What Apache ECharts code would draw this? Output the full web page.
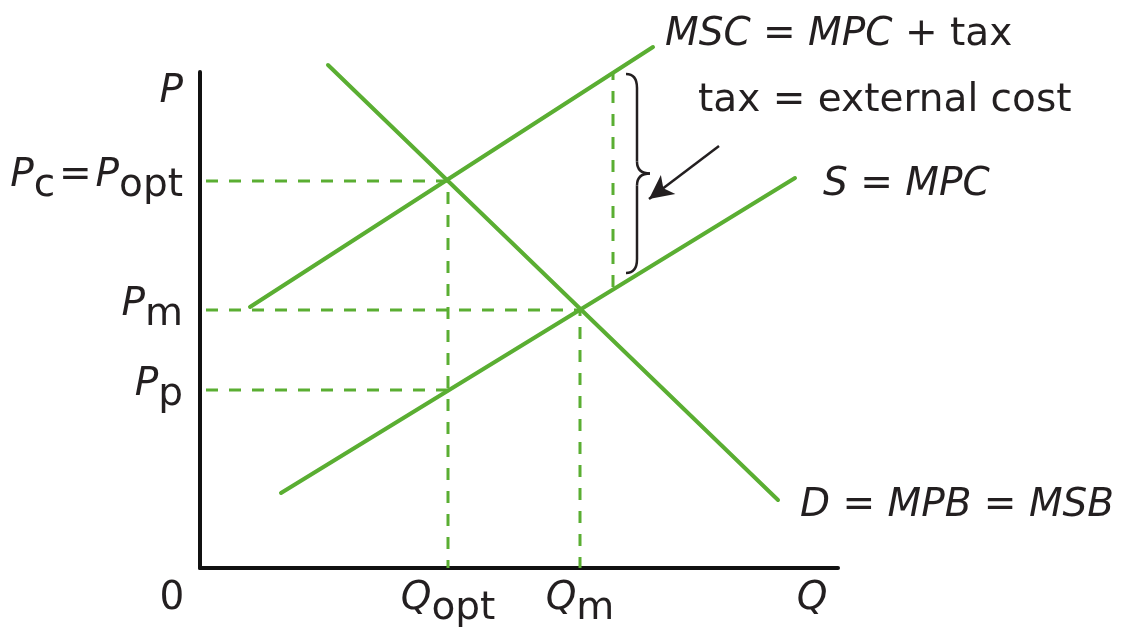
<!DOCTYPE html>
<html>
<head>
<meta charset="utf-8">
<script src="https://cdn.jsdelivr.net/npm/echarts@6/dist/echarts.min.js"></script>
<style>
  html, body { margin: 0; padding: 0; background: #fff; }
  #main { width: 1122px; height: 635px; }
</style>
</head>
<body>
<div id="main"></div>
<script>
// curves, in chart units (x = quantity, y = price)
const mscLine = [[50, 261], [453, 521]];
const supplyLine = [[81, 75], [595, 390]];
const demandLine = [[128, 503], [578, 68]];

// equilibrium points
const qOpt = 248, qM = 380;
const pOpt = 387, pM = 258, pP = 178;

// tax gap at one quantity
const taxX = 413, taxTop = 495, taxBottom = 281;
const arrowFrom = [519, 422], arrowTo = [449, 369];

// tick labels
const priceTicks = [pP, pM, pOpt, 476];
const priceTickLabels = ['{i|P}{s|p}', '{i|P}{s|m}', '{i|P}{s|c}{n|\u200a=\u200a}{i|P}{s|opt}', '{a|P}'];
const qtyTicks = [0, qOpt, qM, 612];
const qtyTickLabels = ['{z|0}', '{i|Q}{s|opt}', '{i|Q}{s|m}', '{a|Q}'];

const green = '#5aae32';
const ink = '#231f20';
const FONT = 'DejaVu Sans';
const FS = 39;

const rich = {
  i: { fontFamily: FONT, fontSize: FS, fontStyle: 'italic', color: ink, lineHeight: FS, verticalAlign: 'top' },
  n: { fontFamily: FONT, fontSize: FS, color: ink, lineHeight: FS, verticalAlign: 'top' },
  s: { fontFamily: FONT, fontSize: FS, color: ink, lineHeight: FS + 10, padding: [10, 0, 0, 0] },
  a: { fontFamily: FONT, fontSize: FS, fontStyle: 'italic', color: ink, lineHeight: FS },
  z: { fontFamily: FONT, fontSize: FS, color: ink, lineHeight: FS, padding: [0, 56, 0, 0] }
};

function curve(data, text, dist, off) {
  return {
    type: 'line', data: data, symbol: 'none', clip: false, silent: true,
    lineStyle: { color: green, width: 4, cap: 'round' },
    endLabel: {
      show: true, distance: dist, offset: off,
      formatter: function () { return text; },
      rich: rich
    }
  };
}

function dashed(data) {
  return {
    type: 'line', data: data, symbol: 'none', clip: false, silent: true,
    lineStyle: { color: green, width: 3, type: [12, 11] }
  };
}

const chart = echarts.init(document.getElementById('main'), null, { renderer: 'canvas' });

const taxSeries = dashed([[taxX, taxBottom], [taxX, taxTop]]);
taxSeries.markLine = {
  silent: true,
  symbol: ['none', 'arrow'],
  symbolSize: [18, 24],
  label: { show: false },
  lineStyle: { color: ink, width: 2.5, type: 'solid' },
  data: [[{ coord: arrowFrom }, { coord: arrowTo }]]
};

chart.setOption({
  animation: false,
  grid: { left: 200, right: 284, top: 72, bottom: 67 },
  xAxis: {
    type: 'value', min: 0, max: 638,
    axisLine: { show: true, lineStyle: { color: '#111', width: 4 } },
    axisTick: { show: false },
    splitLine: { show: false },
    axisLabel: {
      customValues: qtyTicks,
      margin: 11,
      formatter: function (v) { return qtyTickLabels[qtyTicks.indexOf(v)]; },
      rich: rich
    }
  },
  yAxis: {
    type: 'value', min: 0, max: 496,
    axisLine: { show: true, lineStyle: { color: '#111', width: 4 } },
    axisTick: { show: false },
    splitLine: { show: false },
    axisLabel: {
      customValues: priceTicks,
      margin: 17,
      formatter: function (v) { return priceTickLabels[priceTicks.indexOf(v)]; },
      rich: rich
    }
  },
  series: [
    dashed([[6, pOpt], [qOpt, pOpt], [qOpt, 0]]),
    dashed([[6, pM], [qM, pM], [qM, 0]]),
    dashed([[6, pP], [qOpt, pP]]),
    taxSeries,
    curve(mscLine, '{i|MSC}{n| = }{i|MPC}{n| + tax}', 12, [0, -12]),
    curve(supplyLine, '{i|S}{n| = }{i|MPC}', 28, [0, 7]),
    curve(demandLine, '{i|D}{n| = }{i|MPB}{n| = }{i|MSB}', 22, [0, 6])
  ]
});

// brace marking the tax gap, placed from the data
const pTop = chart.convertToPixel({ gridIndex: 0 }, [taxX, taxTop]);
const pBot = chart.convertToPixel({ gridIndex: 0 }, [taxX, taxBottom]);
const bx0 = pTop[0] + 13, bx1 = pTop[0] + 24, bx2 = pTop[0] + 37;
const yT = pTop[1] + 1, yB = pBot[1] - 14, yM = (yT + yB) / 2;
const braceStyle = { fill: 'none', stroke: ink, lineWidth: 2.5 };

function bez(ax, ay, cx, cy, bx, by) {
  return { type: 'bezierCurve', silent: true, style: braceStyle,
    shape: { x1: ax, y1: ay, cpx1: cx, cpy1: cy, x2: bx, y2: by } };
}
function seg(ax, ay, bx, by) {
  return { type: 'line', silent: true, style: braceStyle,
    shape: { x1: ax, y1: ay, x2: bx, y2: by } };
}

chart.setOption({
  graphic: [
    bez(bx0, yT, bx1, yT, bx1, yT + 14),
    seg(bx1, yT + 14, bx1, yM - 12),
    bez(bx1, yM - 12, bx1, yM, bx2, yM),
    bez(bx2, yM, bx1, yM, bx1, yM + 12),
    seg(bx1, yM + 12, bx1, yB - 14),
    bez(bx1, yB - 14, bx1, yB, bx0, yB),
    {
      type: 'text', silent: true, x: 698, y: 101,
      style: { text: 'tax = external cost', font: FS + 'px "' + FONT + '"', fill: ink, verticalAlign: 'middle' }
    }
  ]
});
</script>
</body>
</html>
